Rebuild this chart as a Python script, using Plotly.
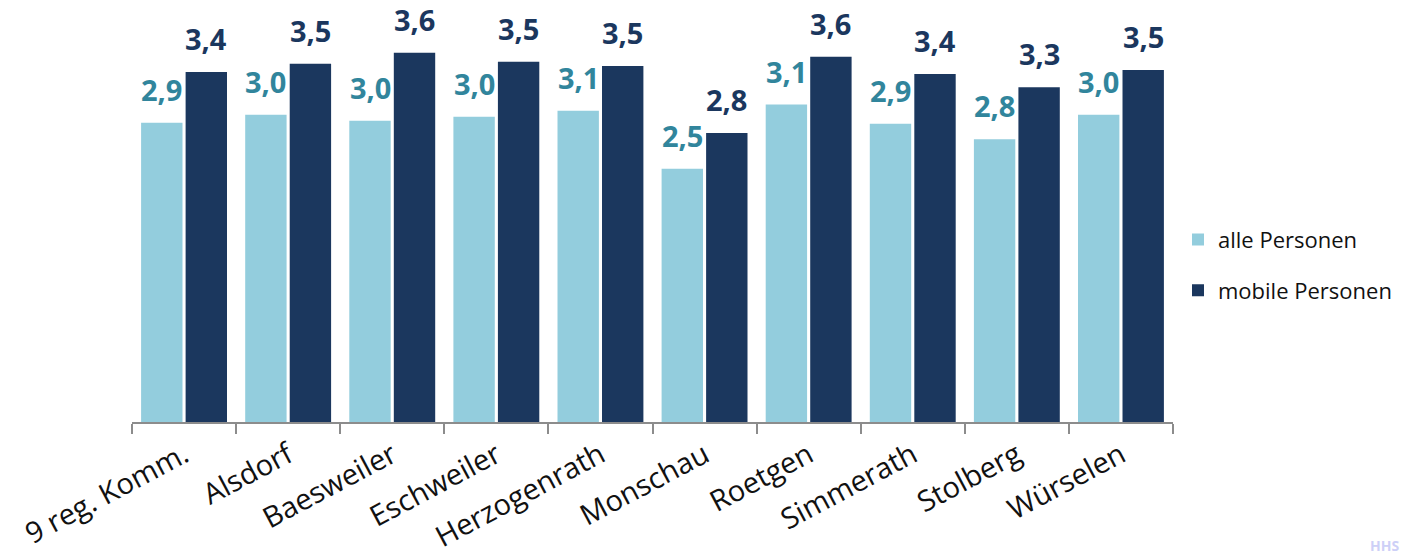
import plotly.graph_objects as go

# Average number of trips per person and day, by municipality
kommunen = ["9 reg. Komm.", "Alsdorf", "Baesweiler", "Eschweiler", "Herzogenrath",
            "Monschau", "Roetgen", "Simmerath", "Stolberg", "Würselen"]
alle_personen = [2.94, 3.02, 2.96, 3.00, 3.06, 2.49, 3.12, 2.93, 2.78, 3.02]
mobile_personen = [3.44, 3.52, 3.63, 3.54, 3.50, 2.84, 3.59, 3.42, 3.29, 3.46]
series_names = ["alle Personen", "mobile Personen"]

LIGHT = "#93CDDD"
DARK = "#1B375E"
LIGHT_LABEL = "#31859C"
FONT = "Open Sans"

W, H = 1418, 558
ML, MR, MT, MB = 132, 245, 15, 136
PLOT_W = W - ML - MR
PLOT_H = H - MT - MB

BARGAP = 0.145
HALF_SLOT = (1 - BARGAP) / 4  # centre offset of each bar within its group

fig = go.Figure()
fig.add_trace(go.Bar(x=kommunen, y=alle_personen, name=series_names[0],
                     marker=dict(color=LIGHT, line=dict(width=0)),
                     legendgroup="a"))
fig.add_trace(go.Bar(x=kommunen, y=mobile_personen, name=series_names[1],
                     marker=dict(color=DARK, line=dict(width=0)),
                     legendgroup="b"))


def fmt(v):
    return f"{v:.1f}".replace(".", ",")


annotations = []
for i, (a, m) in enumerate(zip(alle_personen, mobile_personen)):
    for val, off, col in ((a, -HALF_SLOT, LIGHT_LABEL), (m, HALF_SLOT, DARK)):
        annotations.append(dict(
            x=i + off, y=val, xref="x", yref="y", text=fmt(val),
            showarrow=False, yanchor="bottom", xanchor="center", yshift=12,
            font=dict(family=FONT, size=29, color=col, weight="bold"),
        ))

# faint corner mark
annotations.append(dict(
    x=(1368 - ML) / PLOT_W, y=-(534 - (MT + PLOT_H)) / PLOT_H,
    xref="paper", yref="paper", text="HHS",
    showarrow=False, xanchor="left", yanchor="top",
    font=dict(family=FONT, size=14, color="#CDD0F7", weight="bold"),
))

fig.update_layout(
    width=W, height=H,
    margin=dict(l=ML, r=MR, t=MT, b=MB, autoexpand=False),
    paper_bgcolor="white", plot_bgcolor="white",
    barmode="group", bargap=BARGAP, bargroupgap=0.07,
    showlegend=True,
    legend=dict(x=(1178 - ML) / PLOT_W, xanchor="left", y=0.385, yanchor="middle",
                font=dict(family=FONT, size=22, color="#111111"),
                traceorder="grouped", tracegroupgap=19,
                bgcolor="rgba(0,0,0,0)"),
    annotations=annotations,
    font=dict(family=FONT),
)

fig.update_xaxes(
    type="category", showgrid=False, zeroline=False, automargin=False,
    showline=True, linecolor="#8C8C8C", linewidth=2,
    ticks="outside", tickson="boundaries", ticklen=10, tickwidth=2,
    tickcolor="#8C8C8C", tickangle=-28, ticklabelstandoff=3,
    tickfont=dict(family=FONT, size=29, color="#111111"),
)
fig.update_yaxes(range=[0, 4], visible=False, showgrid=False, zeroline=False,
                 automargin=False)

fig.write_html("out.html")
